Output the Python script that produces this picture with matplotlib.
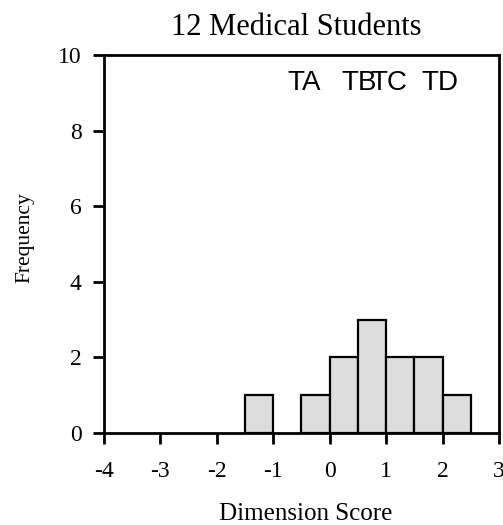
import matplotlib
matplotlib.use("Agg")
import matplotlib.pyplot as plt

# histogram bins (width 0.5) and counts
bin_edges = [-4.0, -3.5, -3.0, -2.5, -2.0, -1.5, -1.0, -0.5, 0.0, 0.5, 1.0, 1.5, 2.0, 2.5, 3.0]
counts = [0, 0, 0, 0, 0, 1, 0, 1, 2, 3, 2, 2, 1, 0]

# marker labels along the top
marker_labels = ["TA", "TB", "TC", "TD"]
marker_x = [-0.45, 0.53, 1.05, 1.95]

x_ticks = [-4, -3, -2, -1, 0, 1, 2, 3]
y_ticks = [0, 2, 4, 6, 8, 10]

plt.rcParams['font.family'] = ['Liberation Serif', 'DejaVu Serif']

fig = plt.figure(figsize=(5.03, 5.25), dpi=100)
ax = fig.add_axes([104 / 503, 1 - 433 / 525, (499 - 104) / 503, (433 - 55) / 525])

lefts = bin_edges[:-1]
widths = [b - a for a, b in zip(bin_edges[:-1], bin_edges[1:])]
nz = [i for i, c in enumerate(counts) if c > 0]
ax.bar([lefts[i] for i in nz], [counts[i] for i in nz], width=[widths[i] for i in nz],
       align='edge', color='#dddddd', edgecolor='black', linewidth=1.6, zorder=2)

ax.set_xlim(-4, 3)
ax.set_ylim(0, 10)
ax.set_xticks(x_ticks)
ax.set_yticks(y_ticks)
ax.set_xticklabels([str(t) for t in x_ticks])
ax.set_yticklabels([str(t) for t in y_ticks])
ax.tick_params(direction='out', length=8, width=2, labelsize=17)
ax.tick_params(axis='y', pad=8)
ax.tick_params(axis='x', pad=12)
for s in ax.spines.values():
    s.set_linewidth(2)

for lab, xv in zip(marker_labels, marker_x):
    ax.text(xv, 9.26, lab, ha='center', va='center', fontsize=20,
            family=['Liberation Sans', 'DejaVu Sans'])

ax.set_title("12 Medical Students", fontsize=22, pad=14.5, x=0.487)
ax.set_xlabel("Dimension Score", fontsize=18)
ax.xaxis.set_label_coords(0.511, -0.185)
ax.set_ylabel("Frequency", fontsize=15.5)
ax.yaxis.set_label_coords(-0.177, 0.516)

plt.savefig("out.png", dpi=100)
